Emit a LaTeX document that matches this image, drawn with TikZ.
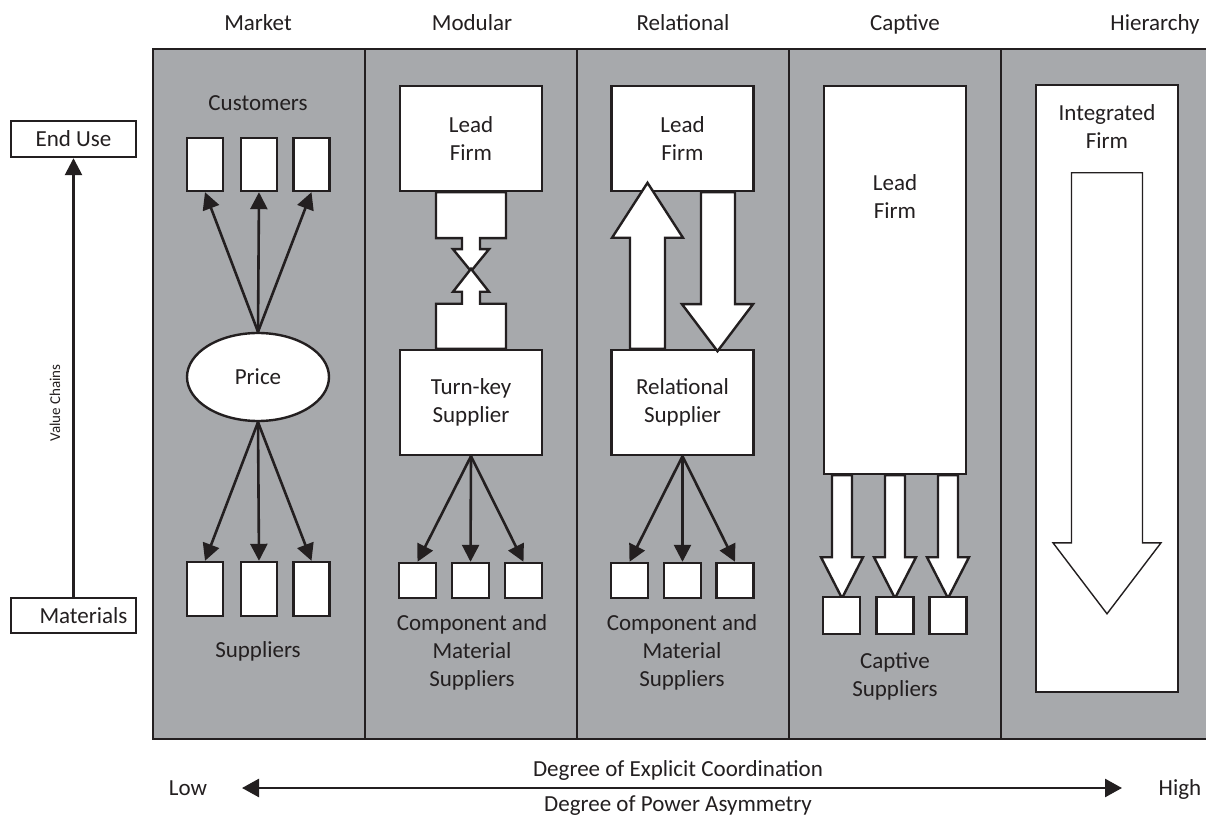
\documentclass[tikz,border=0pt]{standalone}
\usepackage{fontspec}
\setmainfont{Carlito}
\usepackage{tikz}
\usetikzlibrary{shapes.geometric, arrows.meta}
\definecolor{ink}{RGB}{35,31,32}
\definecolor{panel}{RGB}{167,169,172}
\tikzstyle{colhead} = [text=ink, text depth=0pt]
\tikzstyle{subtext} = [align=center, text=ink]
\tikzstyle{firmbox} = [rectangle, draw=ink, fill=white, line width=1.2pt, inner sep=0pt, align=center, text=ink, minimum width=71pt]
\tikzstyle{unitbox} = [rectangle, draw=ink, fill=white, line width=1.2pt, inner sep=0pt]
\tikzstyle{arrow} = [line width=1.3pt, draw=ink, -{Triangle[length=8.5pt, width=8.5pt]}]
\tikzstyle{dblarrow} = [line width=1.3pt, draw=ink, {Triangle[length=8.5pt, width=9pt]}-{Triangle[length=8.5pt, width=9pt]}]
\tikzstyle{blockarrow} = [line width=1.2pt, draw=ink, fill=white]
\tikzstyle{divider} = [line width=1pt, draw=ink]

\begin{document}
\begin{tikzpicture}[x=0.5pt, y=-0.5pt, font=\fontsize{11.5}{14}\selectfont]
     \useasboundingbox (0, 0) rectangle (1206, 818);
     \fill[fill = white] (0, 0) rectangle (1206, 818);
     \fill[fill = panel] (153, 49) rectangle (1206, 739);
     \draw[divider] (1206, 49) -- (153, 49) -- (153, 739) -- (1206, 739);
     \foreach \x in {365, 577, 789, 1001}
          \draw[divider] (\x, 49) -- (\x, 739);

     \node (hmarket) at (258, 23) [colhead] {Market};
     \node (hmodular) at (472, 23) [colhead] {Modular};
     \node (hrelational) at (683, 23) [colhead] {Relational};
     \node (hcaptive) at (905, 23) [colhead] {Captive};
     \node (hhierarchy) at (1155, 23) [colhead] {Hierarchy};

     % value chain axis
     \node (enduse) at (73.5, 139) [unitbox, minimum width=62.5pt, minimum height=18pt, text=ink] {End Use};
     \node (materials) at (73.5, 615.5) [unitbox, minimum width=62.5pt, minimum height=17.5pt, text=ink] {\hspace{10pt}Materials};
     \draw[arrow] (materials.north) -- (enduse.south);
     \node (valuechains) at (55, 403) [rotate=90, text=ink, font=\fontsize{7.5}{9}\selectfont] {Value Chains};

     % market
     \node (customers) at (258, 103) [colhead] {Customers};
     \node (price) at (258, 377) [ellipse, draw=ink, fill=white, line width=1.2pt, minimum width=71pt, minimum height=44pt, inner sep=0pt, text=ink] {Price};
     \foreach \i/\x in {1/205, 2/259, 3/311.5} {
          \node (cust\i) at (\x, 164.5) [unitbox, minimum width=18pt, minimum height=26.5pt] {};
          \node (supp\i) at (\x, 589) [unitbox, minimum width=18pt, minimum height=27pt] {};
          \draw[arrow] (price.north) -- (cust\i.south);
          \draw[arrow] (price.south) -- (supp\i.north);
     }
     \node (suppliers) at (258, 650) [colhead] {Suppliers};

     % modular
     \node (leadmod) at (471, 138.5) [firmbox, minimum height=52.5pt] {Lead\\Firm};
     \node (turnkey) at (471, 402.5) [firmbox, minimum height=52.5pt] {Turn-key\\Supplier};
     \draw[blockarrow] ([shift={(-35,0)}]leadmod.south) -- ++(0,46) -- ++(26,0) -- ++(0,11) -- ++(-9,0) -- ++(18,22)
           -- ++(18,-22) -- ++(-9,0) -- ++(0,-11) -- ++(26,0) -- ++(0,-46) -- cycle;
     \draw[blockarrow] ([shift={(-35,0)}]turnkey.north) -- ++(0,-45) -- ++(26,0) -- ++(0,-12) -- ++(-9,0) -- ++(18,-23)
           -- ++(18,23) -- ++(-9,0) -- ++(0,12) -- ++(26,0) -- ++(0,45) -- cycle;
     \foreach \i/\x in {1/417.5, 2/470.5, 3/523.5} {
          \node (modsup\i) at (\x, 580.5) [unitbox, minimum width=18.5pt, minimum height=17.5pt] {};
          \draw[arrow] (turnkey.south) -- (modsup\i.north);
     }
     \node (modsuppliers) at (472, 652) [subtext] {Component and\\Material\\Suppliers};

     % relational
     \node (leadrel) at (682.5, 138.5) [firmbox, minimum height=52.5pt] {Lead\\Firm};
     \node (relsup) at (682.5, 402.5) [firmbox, minimum height=52.5pt] {Relational\\Supplier};
     \draw[blockarrow] ([shift={(-52.5,0)}]relsup.north) -- ++(0,-111) -- ++(-18,0) -- ++(35.5,-55) -- ++(35.5,55)
           -- ++(-18,0) -- ++(0,111) -- cycle;
     \draw[blockarrow] ([shift={(18.5,0)}]leadrel.south) -- ++(0,112) -- ++(-19,0) -- ++(35.5,47) -- ++(35.5,-47)
           -- ++(-18,0) -- ++(0,-112) -- cycle;
     \foreach \i/\x in {1/629.5, 2/682.5, 3/735} {
          \node (relsup\i) at (\x, 580.5) [unitbox, minimum width=18.5pt, minimum height=17.5pt] {};
          \draw[arrow] (relsup.south) -- (relsup\i.north);
     }
     \node (relsuppliers) at (682, 652) [subtext] {Component and\\Material\\Suppliers};

     % captive
     \node (leadcap) at (895, 280) [firmbox, minimum height=194pt] {};
     \node (leadcaptxt) at (895, 197) [subtext] {Lead\\Firm};
     \foreach \dx in {-53, 0, 53}
          \draw[blockarrow] ([shift={(\dx-10,0)}]leadcap.south) -- ++(0,82) -- ++(-11,0) -- ++(21,41) -- ++(21,-41)
                -- ++(-11,0) -- ++(0,-82) -- cycle;
     \foreach \i/\x in {1/841.5, 2/895, 3/948}
          \node (capsup\i) at (\x, 615.5) [unitbox, minimum width=18.5pt, minimum height=18.5pt] {};
     \node (capsuppliers) at (895, 676) [subtext] {Captive\\Suppliers};

     % hierarchy
     \node (intfirm) at (1107, 388.5) [firmbox, minimum height=303.5pt] {};
     \node (intfirmtxt) at (1107, 127) [subtext] {Integrated\\Firm};
     \draw[blockarrow, line width=0.7pt] ([shift={(-35.5,89)}]intfirm.north) -- ++(0,370) -- ++(-18.5,0) -- ++(54,71)
           -- ++(54,-71) -- ++(-18.5,0) -- ++(0,-370) -- cycle;

     % coordination axis
     \node (coordination) at (678, 769) [colhead] {Degree of Explicit Coordination};
     \node (asymmetry) at (678, 804) [colhead] {Degree of Power Asymmetry};
     \node (low) at (188, 788) [colhead] {Low};
     \node (high) at (1180, 788) [colhead] {High};
     \coordinate (lowend) at (242, 788);
     \coordinate (highend) at (1122, 788);
     \draw[dblarrow] (lowend) -- (highend);
   \end{tikzpicture}
\end{document}
